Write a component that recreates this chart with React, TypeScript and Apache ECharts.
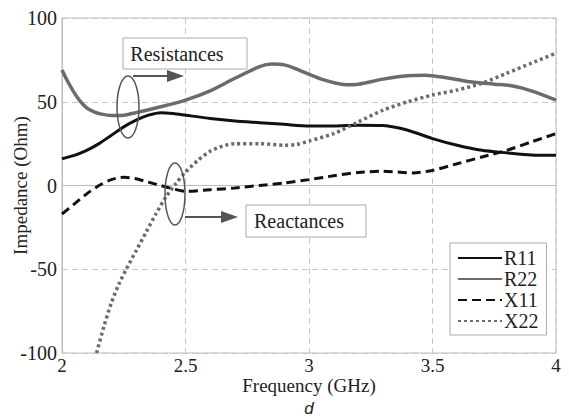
import React, { useEffect, useRef } from "react";
import * as echarts from "echarts";

const xTicks = [2, 2.5, 3, 3.5, 4];
const yTicks = [-100, -50, 0, 50, 100];

const r11: [number, number][] = [
  [2.0, 16], [2.05, 18], [2.1, 21], [2.15, 25], [2.2, 30], [2.25, 35], [2.3, 39], [2.35, 42],
  [2.4, 43.5], [2.45, 43], [2.5, 42], [2.6, 40], [2.7, 38.5], [2.8, 37.5], [2.9, 36.5],
  [3.0, 35.5], [3.1, 35.5], [3.2, 36], [3.3, 35.8], [3.4, 33], [3.5, 28], [3.6, 24],
  [3.7, 21], [3.8, 19.5], [3.9, 18.2], [4.0, 18],
];
const r22: [number, number][] = [
  [2.0, 69], [2.02, 63], [2.045, 56.5], [2.07, 51], [2.1, 46.4], [2.13, 44], [2.16, 42.6],
  [2.2, 41.8], [2.25, 42], [2.3, 43.5], [2.4, 47], [2.5, 51], [2.6, 56.5], [2.7, 64],
  [2.8, 71], [2.85, 72.5], [2.9, 72], [2.95, 69.5], [3.05, 63.5], [3.15, 60.2], [3.2, 60.5],
  [3.3, 63.5], [3.4, 65.5], [3.47, 65.8], [3.55, 64.5], [3.65, 62], [3.75, 60.5], [3.82, 59.5],
  [3.9, 56.5], [4.0, 51],
];
const x11: [number, number][] = [
  [2.0, -17], [2.05, -11], [2.1, -5], [2.15, 0], [2.2, 3.5], [2.25, 5], [2.3, 4], [2.35, 2],
  [2.4, 0], [2.45, -2], [2.5, -3.5], [2.6, -2.5], [2.7, -1.5], [2.8, 0], [2.9, 1.5],
  [3.0, 3.5], [3.1, 5.8], [3.2, 7.8], [3.3, 8.5], [3.42, 7.5], [3.5, 9], [3.6, 13],
  [3.7, 17], [3.8, 21], [3.9, 26], [4.0, 31],
];
const x22: [number, number][] = [
  [2.14, -100], [2.17, -84], [2.2, -70], [2.23, -59], [2.26, -50], [2.3, -39], [2.34, -28],
  [2.38, -17], [2.42, -7], [2.46, 1], [2.5, 8], [2.55, 15], [2.6, 20.5], [2.65, 23.5],
  [2.7, 25], [2.8, 25], [2.9, 24], [2.95, 24.5], [3.0, 26.5], [3.1, 31], [3.2, 38],
  [3.3, 45], [3.4, 50], [3.5, 54], [3.6, 57], [3.7, 61], [3.8, 67], [3.9, 73], [4.0, 79],
];

const seriesNames = ["R11", "R22", "X11", "X22"];

const SERIF = "Liberation Serif";
const BLACK = "#111111";
const GRAY = "#6b6b6b";

export default function App() {
  const ref = useRef<HTMLDivElement>(null);
  useEffect(() => {
    if (!ref.current) return;
    const chart = echarts.init(ref.current, null, { renderer: "svg" });
    const lineSeries = (name: string, data: [number, number][], color: string, type: any, width: number) => ({
      name,
      type: "line",
      data,
      smooth: 0.25,
      symbol: "none",
      lineStyle: { color, width, type },
      itemStyle: { color },
    });
    const txt = (text: string, x: number, y: number, size: number, family: string, style: string = "normal") => ({
      type: "text",
      x,
      y,
      z: 11,
      style: { text, fontFamily: family, fontSize: size, fontStyle: style, fill: "#222", align: "center", verticalAlign: "middle" },
    });
    chart.setOption({
      animation: false,
      backgroundColor: "#ffffff",
      grid: {
        left: 62, right: 13, top: 18, bottom: 66,
        containLabel: false, outerBoundsMode: "none",
        show: true, borderColor: "#bdbdbd", borderWidth: 1,
      },
      xAxis: {
        type: "value",
        min: xTicks[0],
        max: xTicks[xTicks.length - 1],
        interval: 0.5,
        name: "Frequency (GHz)",
        nameLocation: "middle",
        nameGap: 23,
        nameMoveOverlap: false,
        nameTextStyle: { fontFamily: SERIF, fontSize: 19, color: "#222" },
        axisLine: { show: true, lineStyle: { color: "#bdbdbd" } },
        axisTick: { show: false },
        axisLabel: { fontFamily: SERIF, fontSize: 19, color: "#222", margin: 3 },
        splitLine: { show: true, lineStyle: { color: "#c8c8c8", type: [6, 4] } },
      },
      yAxis: {
        type: "value",
        min: yTicks[0],
        max: yTicks[yTicks.length - 1],
        interval: 50,
        name: "Impedance (Ohm)",
        nameLocation: "middle",
        nameGap: 32,
        nameMoveOverlap: false,
        nameTextStyle: { fontFamily: SERIF, fontSize: 19, color: "#222" },
        axisLine: { show: true, lineStyle: { color: "#bdbdbd" } },
        axisTick: { show: false },
        axisLabel: { fontFamily: SERIF, fontSize: 20, color: "#222", margin: 5 },
        splitLine: { show: true, lineStyle: { color: "#c8c8c8", type: [6, 4] } },
      },
      legend: {
        orient: "vertical",
        left: 450,
        top: 243,
        data: seriesNames,
        itemWidth: 44,
        itemHeight: 14,
        itemGap: 1,
        padding: [5, 8, 4, 7],
        borderColor: "#aaaaaa",
        borderWidth: 1,
        backgroundColor: "#ffffff",
        itemStyle: { opacity: 0 },
        textStyle: { fontFamily: SERIF, fontSize: 20, color: "#222", padding: [0, 0, 0, -3] },
      },
      series: [
        lineSeries(seriesNames[0], r11, BLACK, "solid", 3),
        lineSeries(seriesNames[1], r22, GRAY, "solid", 3.5),
        lineSeries(seriesNames[2], x11, BLACK, [9, 5], 3),
        lineSeries(seriesNames[3], x22, GRAY, [3, 3], 3.5),
      ],
      graphic: [
        { type: "rect", shape: { x: 123, y: 38, width: 124, height: 31 }, style: { fill: "#fff", stroke: "#aaa", lineWidth: 1 }, z: 10 },
        txt("Resistances", 177, 54, 20, SERIF),
        { type: "ellipse", shape: { cx: 128, cy: 107, rx: 11, ry: 31 }, style: { fill: "none", stroke: "#555", lineWidth: 1.5 }, z: 10 },
        { type: "line", shape: { x1: 133, y1: 76, x2: 170, y2: 76 }, style: { stroke: "#555", lineWidth: 2 }, z: 10 },
        { type: "polygon", shape: { points: [[167, 70], [184, 76], [167, 82]] }, style: { fill: "#555" }, z: 10 },
        { type: "rect", shape: { x: 246, y: 205, width: 120, height: 32 }, style: { fill: "#fff", stroke: "#aaa", lineWidth: 1 }, z: 10 },
        txt("Reactances", 299, 221, 20, SERIF),
        { type: "ellipse", shape: { cx: 175, cy: 194, rx: 10, ry: 31 }, style: { fill: "none", stroke: "#555", lineWidth: 1.5 }, z: 10 },
        { type: "line", shape: { x1: 185, y1: 217, x2: 224, y2: 217 }, style: { stroke: "#555", lineWidth: 2 }, z: 10 },
        { type: "polygon", shape: { points: [[221, 211], [238, 217], [221, 223]] }, style: { fill: "#555" }, z: 10 },
        txt("d", 309, 408, 17, "Liberation Sans", "italic"),
      ],
    });
    return () => chart.dispose();
  }, []);
  return <div ref={ref} style={{ width: 569, height: 419, position: "absolute", left: 0, top: 0 }} />;
}
